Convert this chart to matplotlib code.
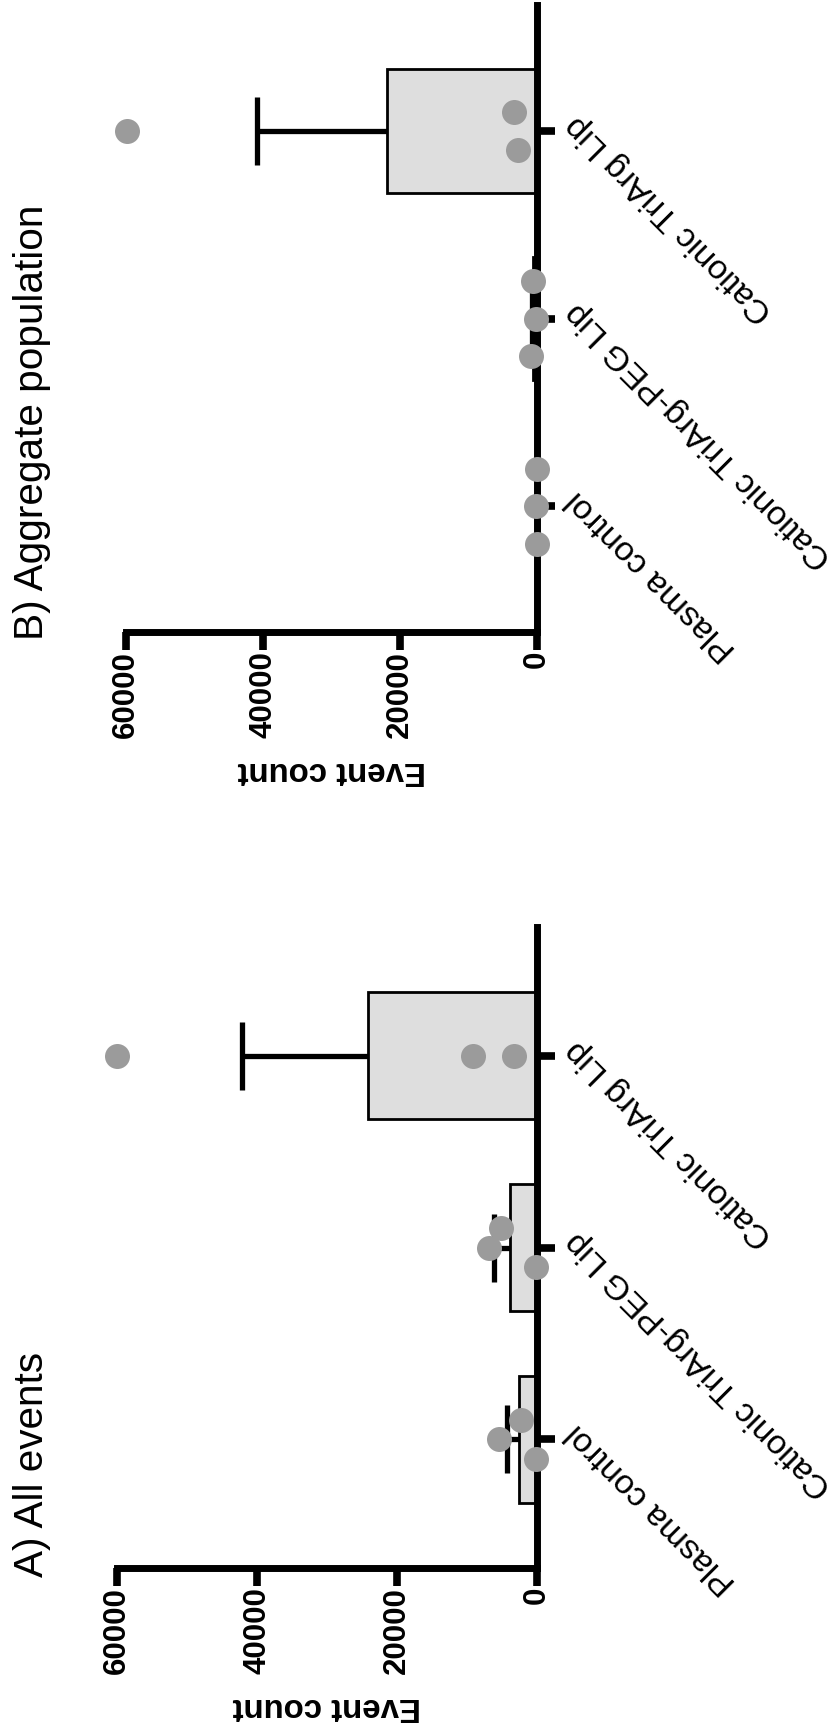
import matplotlib
matplotlib.use("Agg")
import matplotlib.pyplot as plt
import numpy as np

plt.rcParams['font.family'] = ['Liberation Sans', 'DejaVu Sans']

# ---------------- data ----------------
categories = ["Plasma control", "Cationic TriArg-PEG Lip", "Cationic TriArg Lip"]
value_ticks = [0, 20000, 40000, 60000]
value_tick_labels = ["0", "20000", "40000", "60000"]

# Panel A: All events
A_title = "A) All events"
A_means = [2550, 3900, 24100]
A_sems = [1690, 2200, 18100]
A_points = [[2300, 5500, 100], [5200, 6800, 200], [9100, 3300, 60000]]
A_jitter = [[0.1, 0.0, -0.1], [0.1, 0.0, -0.1], [0.0, 0.0, 0.0]]

# Panel B: Aggregate population
B_title = "B) Aggregate population"
B_means = [40, 520, 21900]
B_sems = [15, 220, 19000]
B_points = [[50, 100, 40], [540, 150, 880], [3300, 2800, 59800]]
B_jitter = [[0.2, 0.0, -0.2], [0.2, 0.0, -0.2], [0.1, -0.1, 0.0]]

ylabel = "Event count"

# ---------------- layout ----------------
W, H, DPI = 835, 1730, 100
fig = plt.figure(figsize=(W / DPI, H / DPI), dpi=DPI)


def add_ax(left, right, top, bottom):
    return fig.add_axes([left / W, 1 - bottom / H, (right - left) / W, (bottom - top) / H])


BAR_COLOR = "#dedede"
DOT_COLOR = "#9b9b9b"


def draw_panel(ax, means, sems, points, jitter, label_y):
    pos = np.arange(len(categories))
    ax.barh(pos, means, height=0.66, color=BAR_COLOR, edgecolor="black",
            linewidth=2.0, zorder=2)
    means_a = np.array(means, dtype=float)
    sems_a = np.array(sems, dtype=float)
    ax.errorbar(means_a, pos, xerr=[np.zeros_like(sems_a), sems_a], fmt="none",
                ecolor="black", elinewidth=3.8, capsize=0, zorder=3)
    ax.plot(means_a + sems_a, pos, linestyle="none", marker="|", markersize=49,
            markeredgewidth=3.8, color="black", zorder=3)
    for i, (vals, offs) in enumerate(zip(points, jitter)):
        ax.plot(vals, pos[i] + np.array(offs), linestyle="none", marker="o",
                markersize=18, color=DOT_COLOR, markeredgewidth=0, zorder=6,
                clip_on=False)

    ax.set_xlim(60000, 0)
    ax.set_ylim(-0.67, 2.67)
    for s in ["top", "left"]:
        ax.spines[s].set_visible(False)
    for s in ["right", "bottom"]:
        ax.spines[s].set_linewidth(5.0)
        ax.spines[s].set_capstyle("projecting")
        ax.spines[s].set_zorder(4)
    ax.yaxis.tick_right()
    ax.tick_params(axis="both", which="major", width=5.5, length=12.7,
                   direction="out", color="black")
    ax.tick_params(axis="x", pad=1)
    ax.tick_params(axis="y", pad=4)
    ax.set_xticks(value_ticks)
    ax.set_xticklabels(value_tick_labels, rotation=90, fontsize=22.5,
                       fontweight="bold")
    ax.set_yticks(pos)
    ax.set_yticklabels(categories, rotation=135, rotation_mode="anchor",
                       ha="right", va="top", fontsize=24.6)
    ax.set_xlabel(ylabel, rotation=180, fontsize=23.8, fontweight="bold")
    ax.xaxis.set_label_coords(0.5, label_y)
    ax.xaxis.label.set_verticalalignment("center")
    ax.set_facecolor("none")


axB = add_ax(126, 537, 5, 632)
draw_panel(axB, B_means, B_sems, B_points, B_jitter, -138 / 627)
axA = add_ax(117, 537, 927, 1568)
draw_panel(axA, A_means, A_sems, A_points, A_jitter, -139 / 641)

fig.text(43 / W, 1 - 640 / H, B_title, rotation=90, rotation_mode="anchor",
         ha="left", va="baseline", fontsize=29.2)
fig.text(43 / W, 1 - 1577 / H, A_title, rotation=90, rotation_mode="anchor",
         ha="left", va="baseline", fontsize=29.2)

fig.savefig("out.png", dpi=DPI, facecolor="white")
